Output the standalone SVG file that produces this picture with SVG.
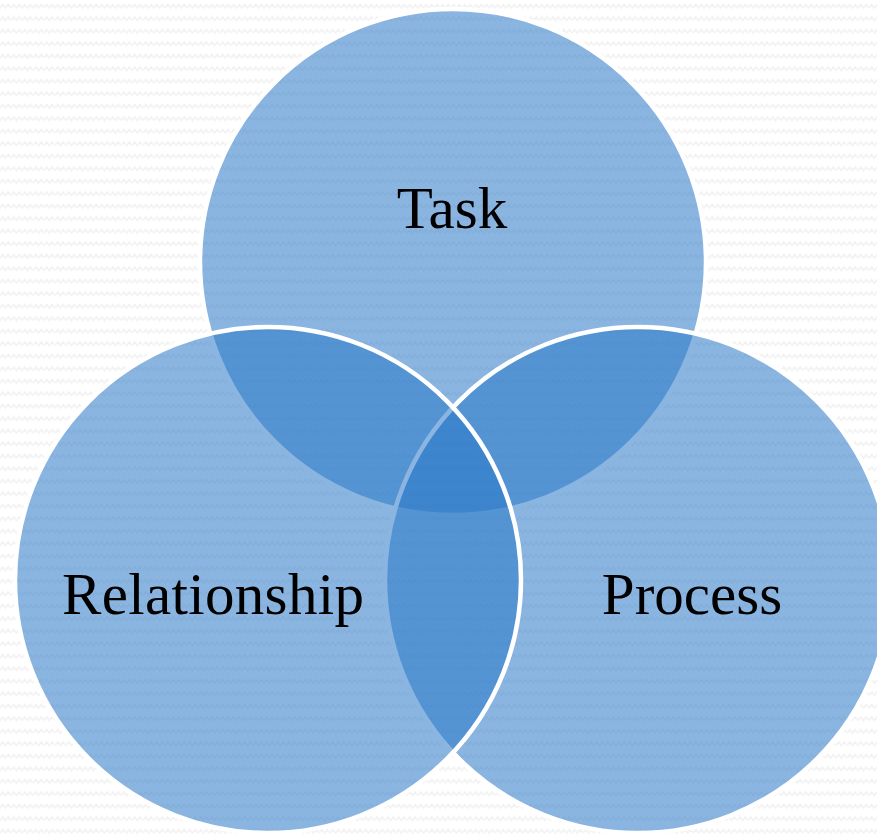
<svg xmlns="http://www.w3.org/2000/svg" width="877" height="835" viewBox="0 0 877 835">
  <style>
    .c { fill: #2a78c8; fill-opacity: 0.55; stroke: #ffffff; stroke-width: 4.5; }
    .t { font-family: "Liberation Serif", "DejaVu Serif", serif; font-size: 59px; fill: #000000; text-anchor: middle; }
  </style>
  <defs>
    <pattern id="zig" x="0" y="0" width="11" height="12.5" patternUnits="userSpaceOnUse">
      <path d="M0,8 L2.75,4.5 L5.5,8 L8.25,4.5 L11,8" fill="none" stroke="#f2f2f2" stroke-width="1.6"/>
    </pattern>
  </defs>
  <rect x="0" y="0" width="877" height="835" fill="#ffffff"/>
  <rect x="0" y="0" width="877" height="835" fill="url(#zig)"/>
  <g id="task">
    <circle class="c" cx="453" cy="262" r="253"/>
  </g>
  <g id="process">
    <circle class="c" cx="638" cy="580" r="253"/>
  </g>
  <g id="relationship">
    <circle class="c" cx="268" cy="580" r="253"/>
  </g>
  <g id="labels">
    <text class="t" x="452" y="228">Task</text>
    <text class="t" x="213" y="614" textLength="302" lengthAdjust="spacing">Relationship</text>
    <text class="t" x="692" y="614">Process</text>
  </g>
  <g id="connectors"></g>
</svg>
